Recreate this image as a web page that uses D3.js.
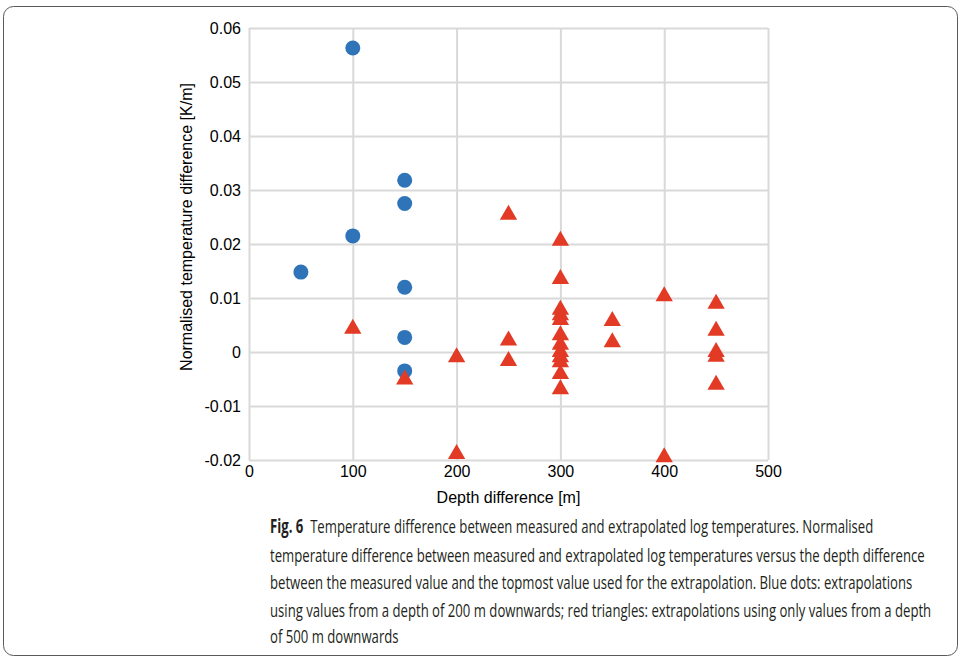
<!DOCTYPE html>
<html>
<head>
<meta charset="utf-8">
<script src="https://cdn.jsdelivr.net/npm/d3@7"></script>
<style>
  html, body { margin: 0; padding: 0; background: #fff; }
  svg { display: block; }
</style>
</head>
<body>
<svg id="chart" width="961" height="661"></svg>
<script>
// ---- Data ----
const blueX = [100, 150, 150, 100, 50, 150, 150, 150];
const blueY = [0.0563, 0.0318, 0.0275, 0.0215, 0.0148, 0.0120, 0.0027, -0.0035];

const redX = [100, 150, 200, 200, 250, 250, 250,
  300, 300, 300, 300, 300, 300, 300, 300, 300, 300, 300, 300,
  350, 350, 400, 400, 450, 450, 450, 450, 450];
const redY = [0.0046, -0.0048, -0.0007, -0.0186, 0.0257, 0.0024, -0.0014,
  0.0209, 0.0138, 0.0081, 0.0071, 0.0062, 0.0034, 0.0016, 0.0003, -0.0007, -0.0016, -0.0038, -0.0066,
  0.0060, 0.0021, 0.0106, -0.0192, 0.0092, 0.0042, 0.0003, -0.0006, -0.0058];

const xTicks = [0, 100, 200, 300, 400, 500];
const yTicks = [-0.02, -0.01, 0, 0.01, 0.02, 0.03, 0.04, 0.05, 0.06];
const yTickLabels = ["-0.02", "-0.01", "0", "0.01", "0.02", "0.03", "0.04", "0.05", "0.06"];

const xTitle = "Depth difference [m]";
const yTitle = "Normalised temperature difference [K/m]";
const captionBold = "Fig. 6";
const captionLines = [
  "Temperature difference between measured and extrapolated log temperatures. Normalised",
  "temperature difference between measured and extrapolated log temperatures versus the depth difference",
  "between the measured value and the topmost value used for the extrapolation. Blue dots: extrapolations",
  "using values from a depth of 200 m downwards; red triangles: extrapolations using only values from a depth",
  "of 500 m downwards"
];

// ---- Layout ----
const svg = d3.select("#chart");
const plot = { left: 249, right: 768, top: 28, bottom: 460 };

const x = d3.scaleLinear().domain([0, 500]).range([plot.left, plot.right]);
const y = d3.scaleLinear().domain([-0.02, 0.06]).range([plot.bottom, plot.top]);

// Frame
svg.append("rect")
  .attr("x", 3.5).attr("y", 6.5)
  .attr("width", 954).attr("height", 649)
  .attr("rx", 10).attr("ry", 10)
  .attr("fill", "none").attr("stroke", "#5a5a5a").attr("stroke-width", 1);

const gridColor = "#d9d9d9";

// Grid via axes
const yGrid = svg.append("g")
  .attr("transform", `translate(${plot.left},0)`)
  .call(d3.axisLeft(y).tickValues(yTicks).tickSize(-(plot.right - plot.left)).tickFormat(""));
const xGrid = svg.append("g")
  .attr("transform", `translate(0,${plot.bottom})`)
  .call(d3.axisBottom(x).tickValues(xTicks).tickSize(-(plot.bottom - plot.top)).tickFormat(""));
[yGrid, xGrid].forEach(g => {
  g.select(".domain").remove();
  g.selectAll(".tick line").attr("stroke", gridColor).attr("stroke-width", 2);
});

// Tick labels
const yAxis = svg.append("g")
  .attr("transform", `translate(${plot.left},0)`)
  .call(d3.axisLeft(y).tickValues(yTicks).tickSize(0).tickPadding(8)
    .tickFormat((d, i) => yTickLabels[i]));
yAxis.select(".domain").remove();
yAxis.selectAll("text")
  .attr("font-family", "Liberation Sans, Arial, sans-serif")
  .attr("font-size", 16).attr("fill", "#000");

const xAxis = svg.append("g")
  .attr("transform", `translate(0,${plot.bottom})`)
  .call(d3.axisBottom(x).tickValues(xTicks).tickSize(0).tickPadding(6).tickFormat(d3.format("d")));
xAxis.select(".domain").remove();
xAxis.selectAll("text")
  .attr("font-family", "Liberation Sans, Arial, sans-serif")
  .attr("font-size", 16).attr("fill", "#000");

// Axis titles
svg.append("text")
  .attr("x", (plot.left + plot.right) / 2).attr("y", 503)
  .attr("text-anchor", "middle")
  .attr("font-family", "Liberation Sans, Arial, sans-serif")
  .attr("font-size", 16).attr("fill", "#000")
  .text(xTitle);

svg.append("text")
  .attr("transform", `translate(192,227) rotate(-90)`)
  .attr("text-anchor", "middle")
  .attr("font-family", "Liberation Sans, Arial, sans-serif")
  .attr("font-size", 16).attr("fill", "#000")
  .text(yTitle);

// Markers
svg.append("g").selectAll("circle")
  .data(blueX.map((d, i) => [d, blueY[i]]))
  .join("circle")
  .attr("cx", d => x(d[0]))
  .attr("cy", d => y(d[1]))
  .attr("r", 7.5)
  .attr("fill", "#2f74b8");

const tri = d3.symbol().type(d3.symbolTriangle).size(130);
svg.append("g").selectAll("path")
  .data(redX.map((d, i) => [d, redY[i]]))
  .join("path")
  .attr("d", tri)
  .attr("transform", d => `translate(${x(d[0])},${y(d[1]) + 1.5})`)
  .attr("fill", "#e23a25");

// Caption: one text per line, squeezed horizontally by a uniform factor
const capFont = "Open Sans, Noto Sans, sans-serif";
const capBase = [533, 562, 589, 617, 643];
const capStart = 270;
const refWidth = 925 - capStart; // width of the 2nd (full) line in the reference
const capGroups = captionLines.map((line, i) => {
  const g = svg.append("g");
  const t = g.append("text")
    .attr("x", 0).attr("y", 0)
    .attr("font-family", capFont).attr("font-size", 19).attr("fill", "#231f20");
  if (i === 0) {
    t.append("tspan").attr("font-weight", "bold").text(captionBold + "\u00a0\u00a0");
  }
  t.append("tspan").text(line);
  return { g, t };
});
const natural = capGroups[1].t.node().getComputedTextLength();
const sx = refWidth / natural;
capGroups.forEach((c, i) => {
  c.g.attr("transform", `translate(${capStart},${capBase[i]}) scale(${sx},1)`);
});
</script>
</body>
</html>
